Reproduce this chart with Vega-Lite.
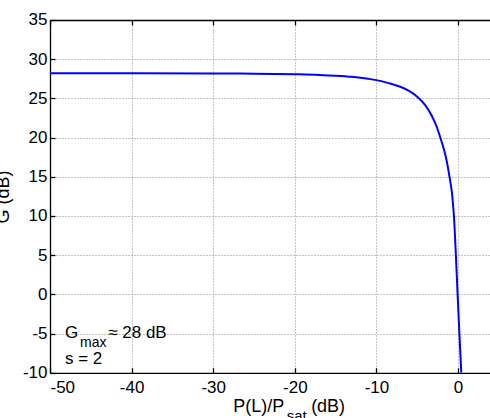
{
  "$schema": "https://vega.github.io/schema/vega-lite/v6.json",
  "width": 440,
  "height": 352.8,
  "autosize": "none",
  "padding": {"left": 50, "top": 20, "right": 0, "bottom": 45},
  "background": "white",
  "config": {
    "font": "Liberation Sans",
    "view": {"stroke": null},
    "axis": {
      "labelFont": "Liberation Sans",
      "labelFontSize": 17,
      "labelColor": "black",
      "labelExpr": "'' + datum.value",
      "domainColor": "black",
      "domainWidth": 1.3,
      "tickColor": "black",
      "tickWidth": 1.3,
      "tickSize": -5,
      "gridColor": "#8a8a8a",
      "gridDash": [1, 2],
      "gridWidth": 1,
      "titleFont": "Liberation Sans",
      "titleFontWeight": "normal",
      "titleColor": "black"
    },
    "text": {"font": "Liberation Sans", "color": "black"}
  },
  "datasets": {
    "curve": [
      {"p": -50, "g": 28.2},
      {"p": -40, "g": 28.2},
      {"p": -30, "g": 28.18},
      {"p": -25, "g": 28.15},
      {"p": -20, "g": 28.08},
      {"p": -17, "g": 28.0},
      {"p": -15, "g": 27.9},
      {"p": -13, "g": 27.75},
      {"p": -11, "g": 27.5},
      {"p": -10, "g": 27.33},
      {"p": -8.5, "g": 26.95},
      {"p": -7, "g": 26.45},
      {"p": -6, "g": 25.95},
      {"p": -5, "g": 25.2},
      {"p": -4, "g": 24.1},
      {"p": -3.2, "g": 22.75},
      {"p": -2.6, "g": 21.35},
      {"p": -2.2, "g": 20.1},
      {"p": -1.7, "g": 18.4},
      {"p": -1.38, "g": 17.0},
      {"p": -1.06, "g": 15.1},
      {"p": -0.75, "g": 13.0},
      {"p": -0.5, "g": 10.0},
      {"p": -0.26, "g": 5.0},
      {"p": -0.05, "g": 0.0},
      {"p": 0.17, "g": -5.0},
      {"p": 0.4, "g": -10.0}
    ]
  },
  "layer": [
    {
      "data": {"name": "curve"},
      "mark": {"type": "line", "color": "#0000ff", "strokeWidth": 2, "clip": true, "interpolate": "monotone"},
      "encoding": {
        "x": {
          "field": "p", "type": "quantitative",
          "scale": {"domain": [-50, 3.92], "nice": false, "zero": false},
          "axis": {"orient": "bottom", "values": [-50, -40, -30, -20, -10, 0], "title": null, "labelPadding": 12, "grid": true}
        },
        "y": {
          "field": "g", "type": "quantitative",
          "scale": {"domain": [-10, 35], "nice": false, "zero": false},
          "axis": {
            "orient": "left", "values": [-10, -5, 0, 5, 10, 15, 20, 25, 30, 35],
            "title": "G (dB)", "titleFontSize": 18, "titleAngle": 270,
            "titleX": -42, "titleY": 176.4, "titleBaseline": "alphabetic", "titleAlign": "center",
            "labelPadding": 8, "grid": true
          }
        }
      }
    },
    {
      "data": {"name": "curve"},
      "mark": {"type": "point", "opacity": 0},
      "encoding": {
        "x": {
          "field": "p", "type": "quantitative",
          "axis": {"orient": "top", "values": [-50, -40, -30, -20, -10, 0], "labels": false, "title": null, "grid": false}
        },
        "y": {"field": "g", "type": "quantitative", "axis": null}
      }
    },
    {
      "data": {"values": [{}]},
      "mark": {"type": "text", "text": "G", "align": "left", "baseline": "alphabetic", "fontSize": 17},
      "encoding": {
        "x": {"datum": -48.16, "type": "quantitative", "axis": null},
        "y": {"datum": -5.52, "type": "quantitative", "axis": null}
      }
    },
    {
      "data": {"values": [{}]},
      "mark": {"type": "text", "text": "max", "align": "left", "baseline": "alphabetic", "fontSize": 14},
      "encoding": {
        "x": {"datum": -46.32, "type": "quantitative", "axis": null},
        "y": {"datum": -6.68, "type": "quantitative", "axis": null}
      }
    },
    {
      "data": {"values": [{}]},
      "mark": {"type": "text", "text": "≈ 28 dB", "align": "left", "baseline": "alphabetic", "fontSize": 17},
      "encoding": {
        "x": {"datum": -42.86, "type": "quantitative", "axis": null},
        "y": {"datum": -5.52, "type": "quantitative", "axis": null}
      }
    },
    {
      "data": {"values": [{}]},
      "mark": {"type": "text", "text": "s = 2", "align": "left", "baseline": "alphabetic", "fontSize": 17},
      "encoding": {
        "x": {"datum": -48.16, "type": "quantitative", "axis": null},
        "y": {"datum": -8.92, "type": "quantitative", "axis": null}
      }
    },
    {
      "data": {"values": [{}]},
      "mark": {"type": "text", "text": "P(L)/P", "align": "left", "baseline": "alphabetic", "fontSize": 18},
      "encoding": {
        "x": {"datum": -27.54, "type": "quantitative", "axis": null},
        "y": {"datum": -14.96, "type": "quantitative", "axis": null}
      }
    },
    {
      "data": {"values": [{}]},
      "mark": {"type": "text", "text": "sat", "align": "left", "baseline": "alphabetic", "fontSize": 15},
      "encoding": {
        "x": {"datum": -21.0, "type": "quantitative", "axis": null},
        "y": {"datum": -16.15, "type": "quantitative", "axis": null}
      }
    },
    {
      "data": {"values": [{}]},
      "mark": {"type": "text", "text": "(dB)", "align": "left", "baseline": "alphabetic", "fontSize": 18},
      "encoding": {
        "x": {"datum": -18.0, "type": "quantitative", "axis": null},
        "y": {"datum": -14.96, "type": "quantitative", "axis": null}
      }
    }
  ],
  "resolve": {"axis": {"x": "independent", "y": "independent"}}
}
